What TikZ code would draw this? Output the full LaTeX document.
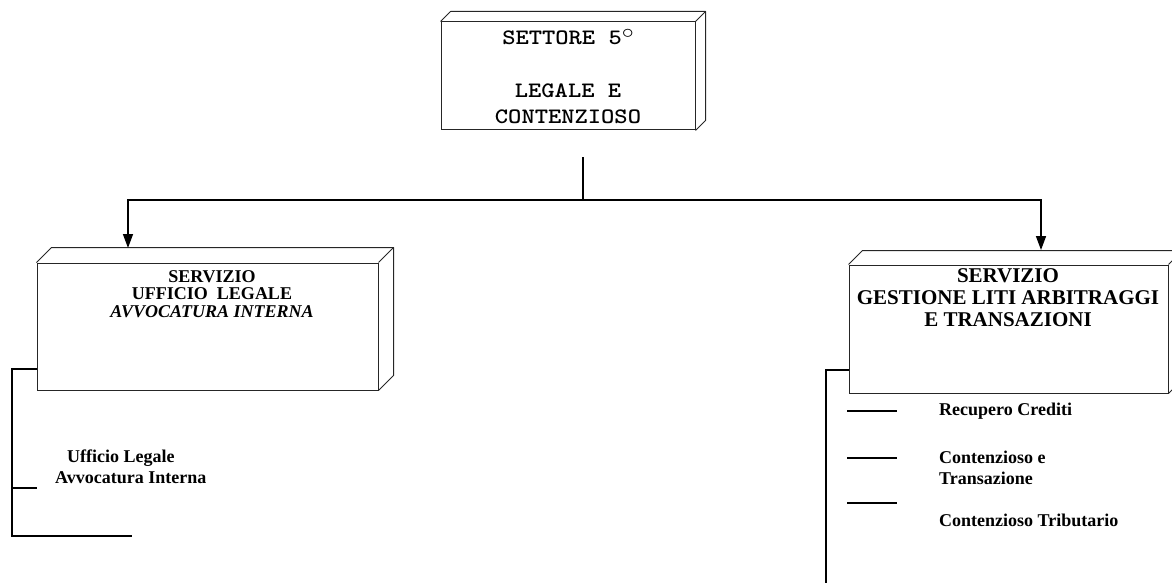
\documentclass[tikz,border=0pt]{standalone}
\usepackage{fontspec}
\setmainfont{Liberation Serif}
\newfontfamily\courfont{lmmonolt10-bold.otf}
\usetikzlibrary{arrows.meta,calc}
\begin{document}
\begin{tikzpicture}[x=1pt,y=-1pt,
  face/.style={draw=black!85, line width=1pt, inner sep=0pt, rectangle},
  edge/.style={draw=black!85, line width=1pt, line join=round},
  conn/.style={draw=black, line width=1.5pt},
  arr/.style={conn, -{Triangle[width=10pt,length=14pt]}},
  monot/.style={font=\courfont\fontsize{22}{26}\selectfont, inner sep=0pt},
  ttlL/.style={font=\bfseries\fontsize{18}{17.5}\selectfont, align=center, inner sep=0pt},
  ttlR/.style={font=\bfseries\fontsize{21}{22}\selectfont, align=center, inner sep=0pt},
  itemL/.style={font=\bfseries\fontsize{18}{20}\selectfont, anchor=west, inner sep=0pt},
  itemR/.style={font=\bfseries\fontsize{18}{21}\selectfont, anchor=west, align=left, inner sep=0pt},
  tick/.style={draw=black, line width=1.3pt}
]
\useasboundingbox (0,0) rectangle (1172,583);

% ---- top box ----
\node[face, minimum width=254pt, minimum height=108pt] (top) at (568,76) {};
\draw[edge] (top.north west) -- ++(10,-10) -- ($(top.north east)+(10,-10)$)
  -- ($(top.south east)+(10,-10)$) -- (top.south east);
\draw[edge] (top.north east) -- ++(10,-10);
\node[monot] (t1) at (568,37) {\scalebox{1.15}[1]{SETTORE 5\raisebox{0.3em}{$\circ$}}};
\node[monot] (t2) at (568,91) {\scalebox{1.15}[1]{LEGALE E}};
\node[monot] (t3) at (568,117) {\scalebox{1.15}[1]{CONTENZIOSO}};

% ---- left box ----
\node[face, minimum width=341pt, minimum height=127pt] (lb) at (207.5,326.5) {};
\draw[edge] (lb.north west) -- ++(15,-15) -- ($(lb.north east)+(15,-15)$)
  -- ($(lb.south east)+(15,-15)$) -- (lb.south east);
\draw[edge] (lb.north east) -- ++(15,-15);
\node[ttlL] (lt) at (212,294) {SERVIZIO\\UFFICIO\ \ LEGALE\\\textit{AVVOCATURA INTERNA}};

% ---- right box ----
\node[face, minimum width=319pt, minimum height=128pt] (rb) at (1008.5,329) {};
\draw[edge] (rb.north west) -- ++(14,-14) -- ($(rb.north east)+(14,-14)$)
  -- ($(rb.south east)+(14,-14)$) -- (rb.south east);
\draw[edge] (rb.north east) -- ++(14,-14);
\node[ttlR] (rt) at (1008,298) {SERVIZIO\\GESTIONE LITI ARBITRAGGI\\E TRANSAZIONI};

% ---- connectors from top ----
\coordinate (hub) at (583,157);
\coordinate (j) at (583,200);
\coordinate (ltip) at (128,248);
\coordinate (rtip) at (1041,250);
\draw[conn] (hub) -- (j);
\draw[arr] (j) -| (ltip);
\draw[arr] (j) -| (rtip);

% ---- left list ----
\coordinate (le) at (12,369);
\coordinate (lbot) at (12,536);
\coordinate (lend) at (132,536);
\coordinate (lt1a) at (12,488);
\coordinate (lt1b) at (37,488);
\draw[conn] (lb.west |- le) -- (le) -- (lbot) -- (lend);
\draw[conn] (lt1a) -- (lt1b);
\node[itemL] (u1) at (67,458) {Ufficio Legale};
\node[itemL] (u2) at (55,478) {Avvocatura Interna};

% ---- right list ----
\coordinate (re) at (826,370);
\coordinate (rbot) at (826,583);
\draw[conn] (rb.west |- re) -- (re) -- (rbot);
\coordinate (k1a) at (847,411); \coordinate (k1b) at (897,411);
\coordinate (k2a) at (847,458); \coordinate (k2b) at (897,458);
\coordinate (k3a) at (847,503); \coordinate (k3b) at (897,503);
\draw[tick] (k1a) -- (k1b);
\draw[tick] (k2a) -- (k2b);
\draw[tick] (k3a) -- (k3b);
\node[itemR] (r1) at (939,411) {Recupero Crediti};
\node[itemR] (r2) at (939,468) {Contenzioso e\\Transazione};
\node[itemR] (r3) at (939,520) {Contenzioso Tributario};
\end{tikzpicture}
\end{document}
